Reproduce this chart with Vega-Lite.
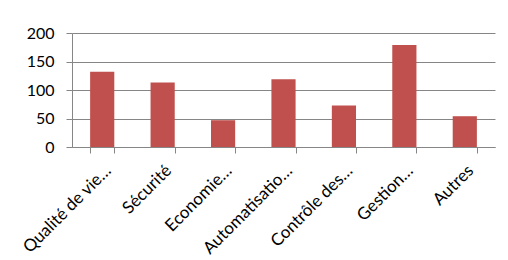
{
  "$schema": "https://vega.github.io/schema/vega-lite/v6.json",
  "width": 423,
  "height": 114,
  "autosize": {"type": "none"},
  "padding": {"left": 72, "top": 33, "right": 13, "bottom": 113},
  "background": "white",
  "config": {
    "view": {"stroke": null},
    "font": "Lato",
    "axis": {"labelFont": "Lato", "labelColor": "#000000", "labelFontSize": 16}
  },
  "data": {
    "values": [
      {"categorie": "Qualité de vie…", "valeur": 132},
      {"categorie": "Sécurité", "valeur": 113},
      {"categorie": "Economie…", "valeur": 47},
      {"categorie": "Automatisatio…", "valeur": 119},
      {"categorie": "Contrôle des…", "valeur": 73},
      {"categorie": "Gestion…", "valeur": 179},
      {"categorie": "Autres", "valeur": 54}
    ]
  },
  "mark": {"type": "bar", "color": "#C0504D"},
  "encoding": {
    "x": {
      "field": "categorie",
      "type": "nominal",
      "sort": null,
      "scale": {"paddingInner": 0.6, "paddingOuter": 0.3},
      "axis": {
        "title": null,
        "labelAngle": -45,
        "labelLimit": 0,
        "labelFontSize": 17,
        "labelPadding": 9,
        "tickBand": "extent",
        "tickSize": 6,
        "tickColor": "#868686",
        "domainColor": "#868686",
        "grid": false
      }
    },
    "y": {
      "field": "valeur",
      "type": "quantitative",
      "scale": {"domain": [0, 200], "nice": false},
      "axis": {
        "title": null,
        "values": [0, 50, 100, 150, 200],
        "tickSize": 6,
        "tickColor": "#868686",
        "domainColor": "#868686",
        "gridColor": "#868686",
        "labelPadding": 12
      }
    }
  }
}
